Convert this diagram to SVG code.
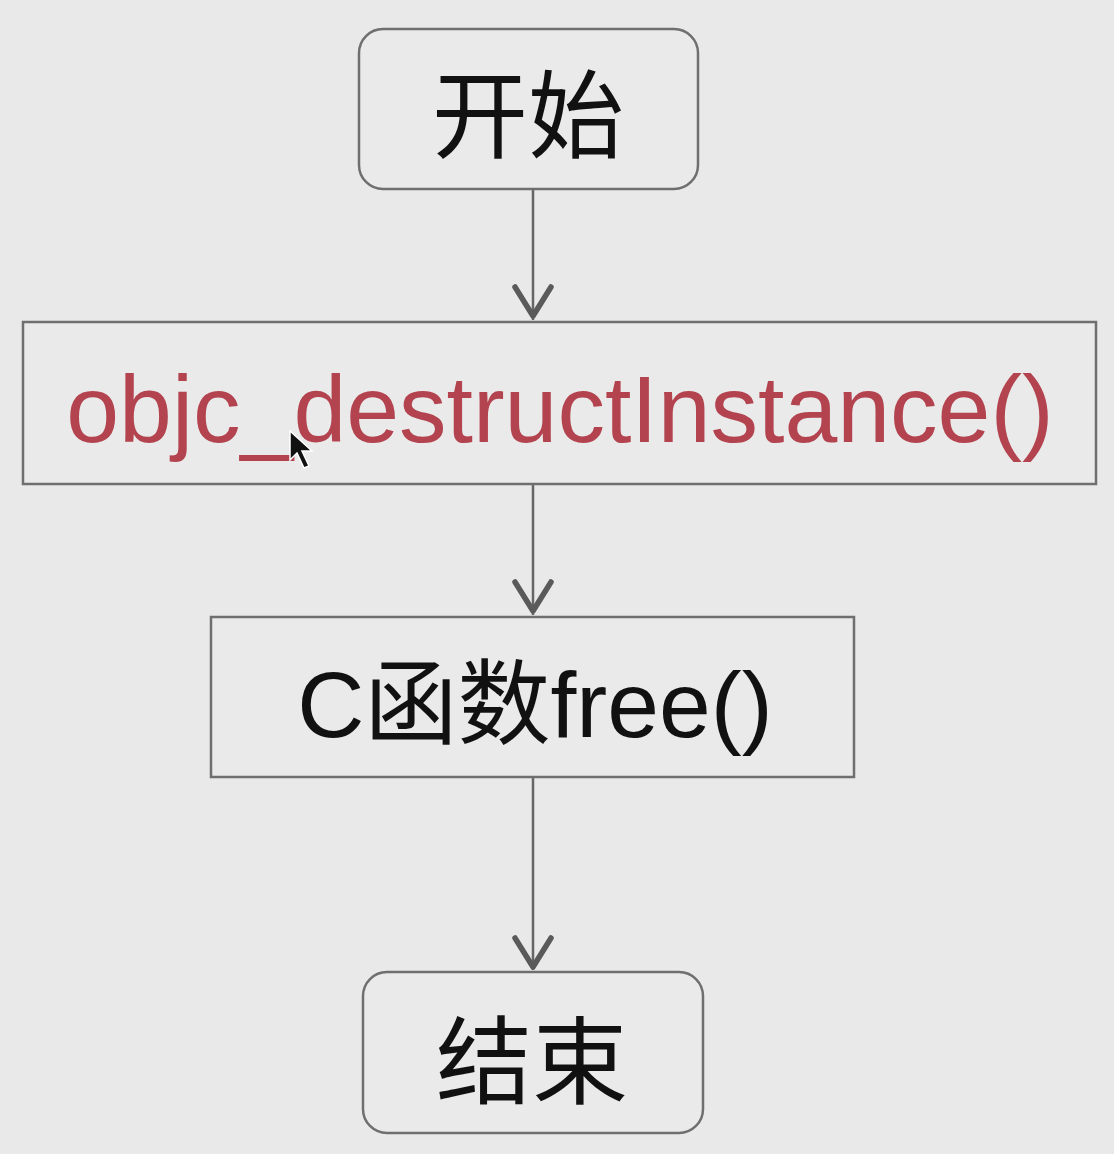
<svg xmlns="http://www.w3.org/2000/svg" width="1114" height="1154" viewBox="0 0 1114 1154">
<style>
.box{fill:#eaeaea;stroke:#6f6f6f;stroke-width:2.5}
.cjk{font-family:"Noto Sans CJK SC","Liberation Sans",sans-serif;font-size:96px;fill:#111;text-anchor:middle}
.lat{font-family:"Liberation Sans","Noto Sans CJK SC",sans-serif;font-size:93px;text-anchor:middle}
.red{font-size:95px;fill:#b3444f}
.edge{stroke:#666;stroke-width:2.5;fill:none}
.head{stroke:#5a5a5a;stroke-width:5.5;fill:none;stroke-linecap:round;stroke-linejoin:round}
</style>
<rect x="0" y="0" width="1114" height="1154" fill="#e9e9e9"/>
<g id="connectors">
<line class="edge" x1="533" y1="189" x2="533" y2="320"/>
<polyline class="head" points="515,287 533,316 551,287"/>
<line class="edge" x1="533" y1="484" x2="533" y2="615"/>
<polyline class="head" points="515,582 533,611 551,582"/>
<line class="edge" x1="533" y1="777" x2="533" y2="970"/>
<polyline class="head" points="515,938 533,967 551,938"/>
</g>
<g id="start">
<rect class="box" x="359" y="29" width="339" height="160" rx="24"/>
<text class="cjk" x="528" y="150">开始</text>
</g>
<g id="destruct">
<rect class="box" x="23" y="322" width="1073" height="162"/>
<text class="lat red" x="560" y="442">objc_destructInstance()</text>
</g>
<g id="free">
<rect class="box" x="211" y="617" width="643" height="160"/>
<text class="lat" x="535" y="737" fill="#111">C<tspan font-family="Noto Sans CJK SC, sans-serif">函数</tspan>free()</text>
</g>
<g id="end">
<rect class="box" x="363" y="972" width="340" height="161" rx="24"/>
<text class="cjk" x="532" y="1096">结束</text>
</g>
<polygon points="290,431 290,460 297,453 304,468 309,466 302,451 312,451" fill="#111" stroke="#fff" stroke-width="1.5"/>
</svg>
